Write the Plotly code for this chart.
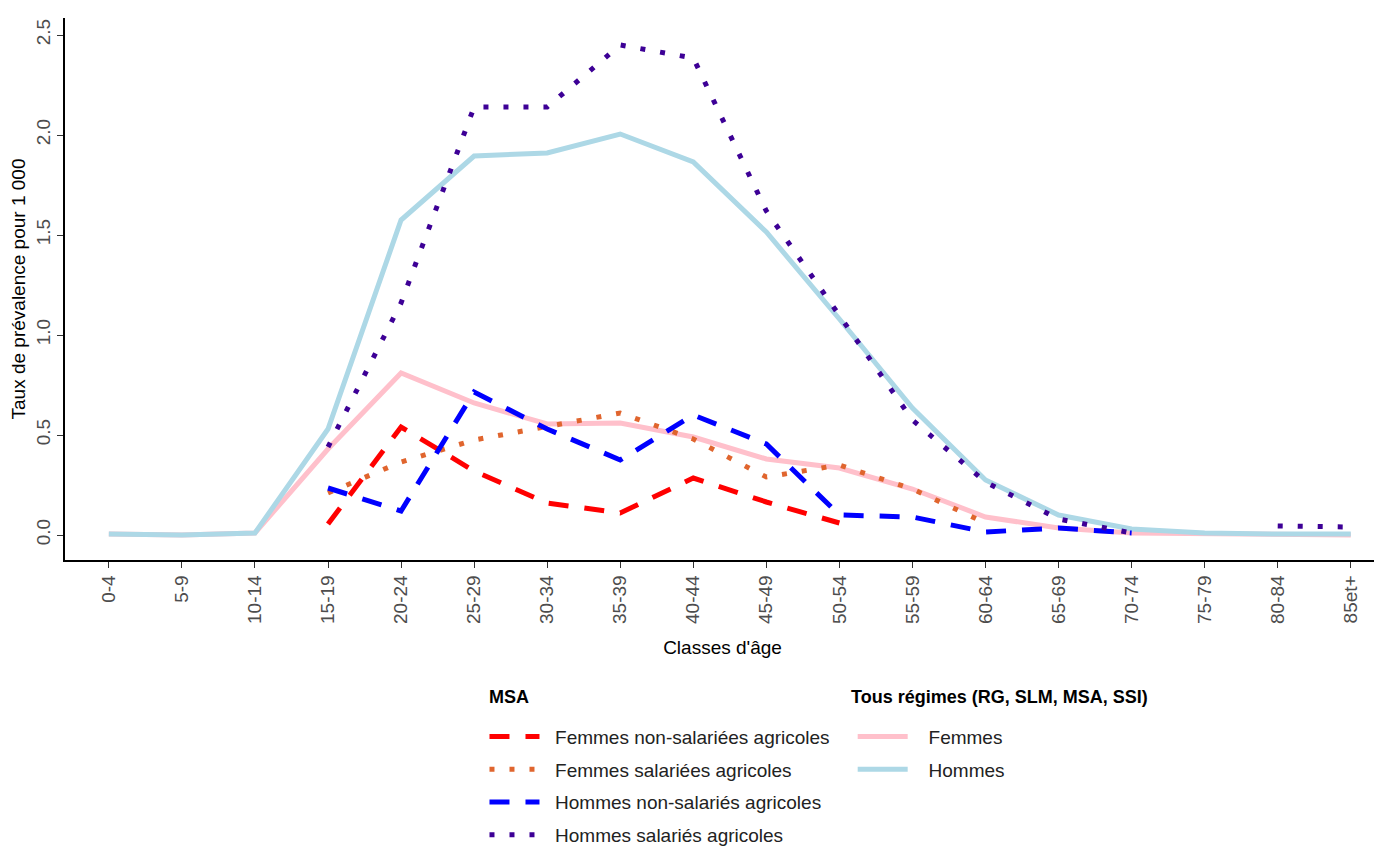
import plotly.graph_objects as go

# age classes
ages = ["0-4", "5-9", "10-14", "15-19", "20-24", "25-29", "30-34", "35-39",
        "40-44", "45-49", "50-54", "55-59", "60-64", "65-69", "70-74",
        "75-79", "80-84", "85et+"]

# Tous regimes
femmes_tous = [0.005, 0.0, 0.01, 0.43, 0.81, 0.66, 0.555, 0.56, 0.49, 0.38,
               0.335, 0.23, 0.09, 0.035, 0.01, 0.005, 0.0, 0.0]
hommes_tous = [0.005, 0.0, 0.01, 0.53, 1.575, 1.895, 1.91, 2.005, 1.865,
               1.515, 1.08, 0.635, 0.275, 0.10, 0.03, 0.01, 0.005, 0.005]

# MSA
f_nonsal = [None, None, None, 0.055, 0.54, 0.32, 0.16, 0.11, 0.285, 0.165,
            0.06, None, None, None, None, None, None, None]
f_sal = [None, None, None, 0.21, 0.365, 0.475, 0.54, 0.61, 0.48, 0.29,
         0.35, 0.23, 0.06, None, None, None, None, None]
h_nonsal = [None, None, None, 0.235, 0.12, 0.715, 0.53, 0.375, 0.6, 0.455,
            0.10, 0.09, 0.015, 0.035, 0.01, None, None, None]
h_sal = [None, None, None, 0.44, 1.16, 2.14, 2.14, 2.45, 2.385, 1.62,
         1.10, 0.575, 0.265, 0.08, 0.01, None, 0.045, 0.04]

sp = "\u00a0\u00a0"

fig = go.Figure()

# Tous regimes (drawn first, under MSA lines)
fig.add_trace(go.Scatter(x=ages, y=femmes_tous, mode="lines",
                         name=sp + "\u00a0Femmes",
                         line=dict(color="#FFC0CB", width=5), legend="legend2",
                         legendgroup="tf"))
fig.add_trace(go.Scatter(x=ages, y=hommes_tous, mode="lines",
                         name=sp + "\u00a0Hommes",
                         line=dict(color="#ADD8E6", width=5), legend="legend2",
                         legendgroup="th"))

# MSA
msa = [
    ("Femmes non-salariées agricoles", f_nonsal, "#FF0000", "20px,16px"),
    ("Femmes salariées agricoles", f_sal, "#E0652E", "5px,15px"),
    ("Hommes non-salariés agricoles", h_nonsal, "#0000FF", "20px,16px"),
    ("Hommes salariés agricoles", h_sal, "#3D0096", "5px,15px"),
]
for i, (name, vals, col, dash) in enumerate(msa):
    fig.add_trace(go.Scatter(x=ages, y=vals, mode="lines", name=sp + name,
                             line=dict(color=col, width=5, dash=dash),
                             legend="legend", legendgroup="m%d" % i))

legend_font = dict(family="Liberation Sans, Arial", size=19, color="#222222")
title_font = dict(family="Liberation Sans, Arial", size=18, color="#000000")

# page body keeps an 8px margin; the figure runs a little past the window at
# the bottom so the legends don't push the margins (the last row is cut, as in
# the original)
fig.update_layout(
    width=1374, height=860,
    margin=dict(l=57, r=2, t=10, b=308),
    plot_bgcolor="white", paper_bgcolor="white",
    font=dict(family="Liberation Sans, Arial", color="#4d4d4d"),
    xaxis=dict(
        type="category", range=[-0.6, 17.4], automargin=False,
        showline=True, linecolor="#000000", linewidth=1.5,
        ticks="outside", ticklen=6, tickcolor="#333333",
        tickangle=-90, tickfont=dict(size=19, color="#4d4d4d"),
        title=dict(text="Classes d'âge", standoff=18,
                   font=dict(size=19, color="#000000")),
        showgrid=False, zeroline=False,
    ),
    yaxis=dict(
        range=[-0.125, 2.585], automargin=False,
        tickvals=[0, 0.5, 1.0, 1.5, 2.0, 2.5],
        ticktext=["0.0", "0.5", "1.0", "1.5", "2.0", "2.5"],
        showline=True, linecolor="#000000", linewidth=1.5,
        ticks="outside", ticklen=6, tickcolor="#333333",
        tickangle=-90, tickfont=dict(size=19, color="#4d4d4d"),
        title=dict(text="Taux de prévalence pour 1 000", standoff=2,
                   font=dict(size=19, color="#000000")),
        showgrid=False, zeroline=False,
    ),
    legend=dict(
        font=legend_font, itemwidth=50, tracegroupgap=5,
        x=0.319, xanchor="left", y=-0.291, yanchor="top",
        bgcolor="rgba(0,0,0,0)",
    ),
    legend2=dict(
        font=legend_font, itemwidth=50, tracegroupgap=5,
        x=0.599, xanchor="left", y=-0.291, yanchor="top",
        bgcolor="rgba(0,0,0,0)",
    ),
    annotations=[
        dict(text="<b>MSA</b>", xref="paper", yref="paper",
             x=0.321, y=-0.2528, xanchor="left", yanchor="middle",
             showarrow=False, font=title_font),
        dict(text="<b>Tous régimes (RG, SLM, MSA, SSI)</b>", xref="paper",
             yref="paper", x=0.596, y=-0.2528, xanchor="left",
             yanchor="middle", showarrow=False, font=title_font),
    ],
)

fig.write_html("out.html")
